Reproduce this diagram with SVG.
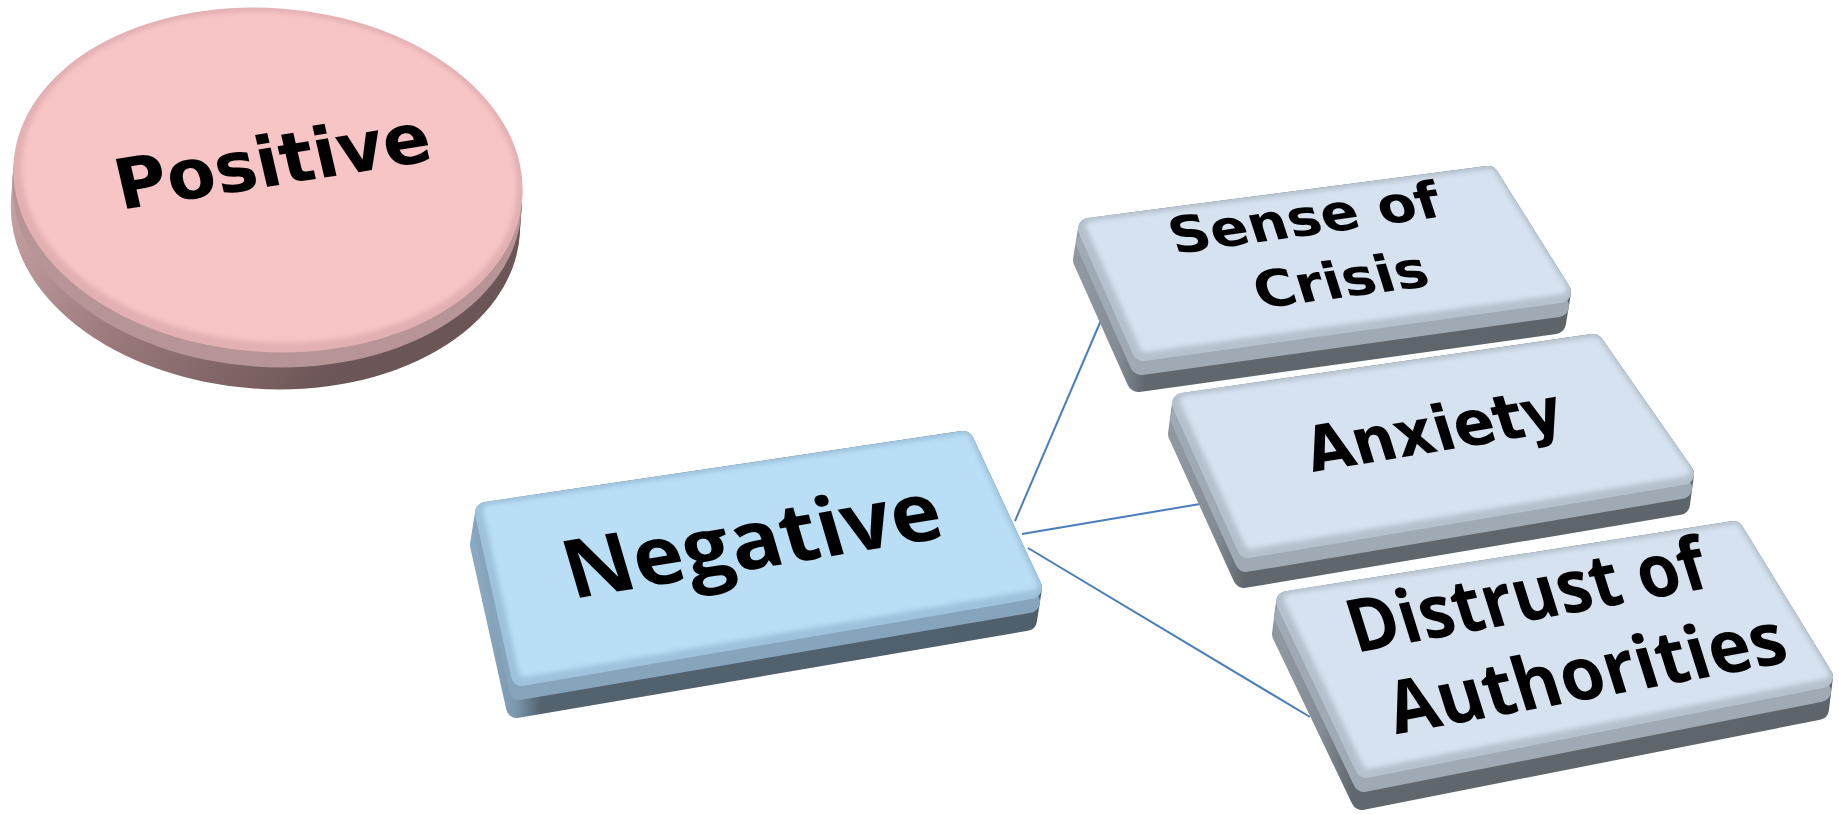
<svg xmlns="http://www.w3.org/2000/svg" width="1839" height="814" viewBox="0 0 1839 814">
<style>
  .lbl { font-family: "DejaVu Sans", "Liberation Sans", sans-serif; font-weight: bold; fill: #000; }
  .lbl2 { font-family: "Open Sans", "Liberation Sans", sans-serif; font-weight: bold; fill: #000; }
  .conn { stroke: #4A7EBB; stroke-width: 2; fill: none; }
  .poly { stroke-linejoin: round; stroke-width: 22; }
  .inner { stroke-linejoin: round; stroke-width: 10; }
  .b-side { fill: url(#gBlueSide); stroke: url(#gBlueSide); }
  .b-band { fill: #86A4BB; stroke: #86A4BB; }
  .b-rim { fill: #9EC2DB; stroke: #9EC2DB; }
  .b-face { fill: #B9DEF6; stroke: #B9DEF6; }
  .g-side { fill: url(#gGreySide); stroke: url(#gGreySide); }
  .g-band { fill: #A0AAB5; stroke: #A0AAB5; }
  .g-rim { fill: #B5C1CD; stroke: #B5C1CD; }
  .g-face { fill: #D6E2EF; stroke: #D6E2EF; }
</style>
<defs>
  <linearGradient id="gBlueSide" x1="0" y1="0" x2="1" y2="0">
    <stop offset="0" stop-color="#8CA8BE"/>
    <stop offset="0.06" stop-color="#7E9AB0"/>
    <stop offset="0.11" stop-color="#52626F"/>
    <stop offset="1" stop-color="#4F5F6C"/>
  </linearGradient>
  <linearGradient id="gGreySide" x1="0" y1="0" x2="1" y2="0">
    <stop offset="0" stop-color="#8F98A1"/>
    <stop offset="0.07" stop-color="#848D96"/>
    <stop offset="0.13" stop-color="#60676D"/>
    <stop offset="1" stop-color="#5D646A"/>
  </linearGradient>
  <linearGradient id="gPinkSide" gradientUnits="userSpaceOnUse" x1="20" y1="200" x2="330" y2="400">
    <stop offset="0" stop-color="#C9A3A4"/>
    <stop offset="0.45" stop-color="#9A7A7B"/>
    <stop offset="1" stop-color="#6C5556"/>
  </linearGradient>
  <filter id="soft" x="-5%" y="-5%" width="110%" height="110%">
    <feGaussianBlur stdDeviation="2.5"/>
  </filter>
</defs>

<g id="connectors">
  <line class="conn" x1="1015" y1="521" x2="1102" y2="318"/>
  <line class="conn" x1="1022" y1="534" x2="1200" y2="504"/>
  <line class="conn" x1="1028" y1="548" x2="1310" y2="717"/>
</g>

<g id="node-positive">
  <g transform="rotate(4 268 180)" fill="url(#gPinkSide)">
    <ellipse cx="268" cy="189" rx="255" ry="172"/>
    <ellipse cx="268" cy="198" rx="255" ry="172"/>
    <ellipse cx="268" cy="207" rx="255" ry="172"/>
    <ellipse cx="268" cy="217" rx="255" ry="172"/>
  </g>
  <ellipse cx="268" cy="195" rx="255" ry="172" transform="rotate(4 268 180)" fill="#B79496"/>
  <ellipse cx="268" cy="180" rx="255" ry="172" transform="rotate(4 268 180)" fill="#E2B0B2"/>
  <ellipse cx="269" cy="177" rx="248" ry="165" transform="rotate(4 268 180)" fill="#F7C5C6" filter="url(#soft)"/>
  <text class="lbl" x="0" y="0" font-size="70" text-anchor="middle" textLength="318" lengthAdjust="spacingAndGlyphs" transform="translate(278 185) rotate(-9) skewX(4)">Positive</text>
</g>

<g id="node-negative">
  <polygon class="poly b-side" points="486,513 963,442 1031,588 1026,620 517,707 481,545"/>
  <polygon class="poly b-band" points="484,527 961,456 1029,602 520,689"/>
  <polygon class="poly b-rim" points="486,513 963,442 1031,588 522,675"/>
  <polygon class="inner b-face" points="486,513 963,442 1031,588 522,675" transform="translate(2 -3)" filter="url(#soft)"/>
  <text class="lbl2" x="0" y="0" font-size="82" text-anchor="middle" textLength="380" lengthAdjust="spacingAndGlyphs" transform="translate(760 568) rotate(-9.4) skewX(7)">Negative</text>
</g>

<g id="node-sense">
  <polygon class="poly g-side" points="1089,229 1488,177 1560,292 1555,323 1138,381 1084,260"/>
  <polygon class="poly g-band" points="1087,243 1486,191 1558,306 1141,364"/>
  <polygon class="poly g-rim" points="1089,229 1488,177 1560,292 1143,350"/>
  <polygon class="inner g-face" points="1089,229 1488,177 1560,292 1143,350" transform="translate(2 -3)" filter="url(#soft)"/>
  <text class="lbl" x="0" y="0" font-size="51" text-anchor="middle" textLength="272" lengthAdjust="spacingAndGlyphs" transform="translate(1310 235) rotate(-8) skewX(10)">Sense of</text>
  <text class="lbl" x="0" y="0" font-size="51" text-anchor="middle" textLength="174" lengthAdjust="spacingAndGlyphs" transform="translate(1346 297) rotate(-7.6) skewX(10)">Crisis</text>
</g>

<g id="node-anxiety">
  <polygon class="poly g-side" points="1183,404 1593,345 1683,474 1679,504 1244,577 1179,434"/>
  <polygon class="poly g-band" points="1181,418 1591,359 1681,488 1246,561"/>
  <polygon class="poly g-rim" points="1183,404 1593,345 1683,474 1248,547"/>
  <polygon class="inner g-face" points="1183,404 1593,345 1683,474 1248,547" transform="translate(2 -3)" filter="url(#soft)"/>
  <text class="lbl" x="0" y="0" font-size="63" text-anchor="middle" textLength="258" lengthAdjust="spacingAndGlyphs" transform="translate(1440 451) rotate(-9.4) skewX(8)">Anxiety</text>
</g>

<g id="node-distrust">
  <polygon class="poly g-side" points="1287,602 1733,532 1822,677 1818,709 1362,799 1283,634"/>
  <polygon class="poly g-band" points="1285,616 1731,546 1820,691 1364,781"/>
  <polygon class="poly g-rim" points="1287,602 1733,532 1822,677 1366,767"/>
  <polygon class="inner g-face" points="1287,602 1733,532 1822,677 1366,767" transform="translate(2 -3)" filter="url(#soft)"/>
  <text class="lbl2" x="0" y="0" font-size="74" text-anchor="middle" textLength="362" lengthAdjust="spacingAndGlyphs" transform="translate(1534 620) rotate(-10.4) skewX(7)">Distrust of</text>
  <text class="lbl2" x="0" y="0" font-size="74" text-anchor="middle" textLength="402" lengthAdjust="spacingAndGlyphs" transform="translate(1594 698) rotate(-10.4) skewX(7)">Authorities</text>
</g>
</svg>
